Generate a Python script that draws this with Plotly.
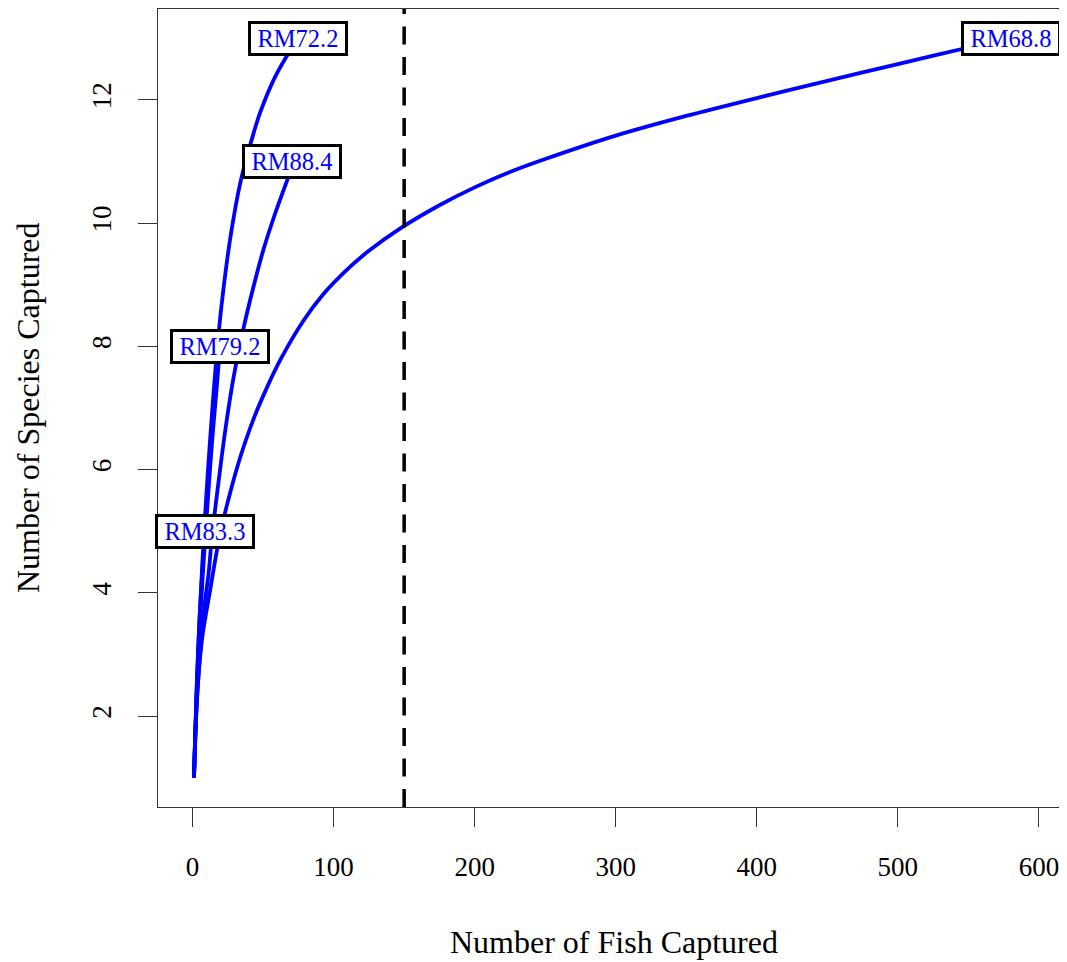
import plotly.graph_objects as go

# ---- data ----
rm688_x = [1, 2, 4, 7, 12.5, 17.3, 22, 26.7, 33.8, 43.2, 52.7, 62.2, 78.7, 92.8, 111.6, 125, 147,
           175, 200, 225, 250, 300, 350, 400, 450, 500, 550, 580]
rm688_y = [1, 1.75, 2.6, 3.3, 4.05, 4.69, 5.2, 5.63, 6.2, 6.82, 7.33, 7.78, 8.42, 8.85, 9.29, 9.55, 9.91,
           10.29, 10.58, 10.83, 11.04, 11.42, 11.74, 12.03, 12.31, 12.58, 12.85, 13.0]

rm722_x = [1, 3, 5, 7, 9, 11.4, 14.9, 18.4, 22, 26.7, 33.8, 42.5, 48, 58, 67.8, 75]
rm722_y = [1, 2.5, 3.6, 4.5, 5.3, 6.15, 7.25, 8.2, 8.95, 9.75, 10.65, 11.4, 11.8, 12.35, 12.75, 13.0]

rm884_x = [1, 3, 6, 9, 11.4, 13.7, 18.4, 23.2, 29.1, 36.2, 43, 50, 58, 67, 71]
rm884_y = [1, 2.2, 3.2, 3.9, 4.32, 4.9, 5.8, 6.64, 7.5, 8.3, 8.95, 9.55, 10.12, 10.69, 10.93]

rm792_x = [1, 3, 5, 7, 9, 11.4, 14, 17, 19.5]
rm792_y = [1, 2.4, 3.4, 4.2, 4.9, 5.7, 6.5, 7.3, 8.0]

rm833_x = [1, 2, 3, 4, 5, 6, 7, 8, 9]
rm833_y = [1, 1.8, 2.5, 3.1, 3.6, 4.0, 4.4, 4.7, 5.0]

label_text = ["RM72.2", "RM88.4", "RM79.2", "RM83.3", "RM68.8"]
label_x = [75, 70.6, 19.5, 9, 580]
label_y = [13, 11, 8, 5, 13]

x_ticks = [0, 100, 200, 300, 400, 500, 600]
y_ticks = [2, 4, 6, 8, 10, 12]
cutoff_x = 150

FONT = "Liberation Serif"

fig = go.Figure()
for xs, ys in [(rm688_x, rm688_y), (rm722_x, rm722_y), (rm884_x, rm884_y),
               (rm792_x, rm792_y), (rm833_x, rm833_y)]:
    fig.add_trace(go.Scatter(x=xs, y=ys, mode="lines",
                             line=dict(color="#0000FF", width=3.8, shape="spline", smoothing=0.8),
                             showlegend=False, hoverinfo="skip"))

fig.add_shape(type="line", xref="x", yref="paper", x0=cutoff_x, x1=cutoff_x, y0=0, y1=1,
              line=dict(color="black", width=3.5, dash="18px,12.5px"), layer="above")

for t, lx, ly in zip(label_text, label_x, label_y):
    fig.add_annotation(x=lx, y=ly, text=t, showarrow=False,
                       font=dict(family=FONT, size=24.5, color="#0000FF"),
                       bgcolor="white", bordercolor="black", borderwidth=3,
                       borderpad=1, width=92, height=27)

fig.add_annotation(xref="paper", yref="paper", x=(606 - 150) / 909, y=0,
                   yanchor="middle", xanchor="center", yshift=-134.7,
                   text="Number of Fish Captured", showarrow=False,
                   font=dict(family=FONT, size=32, color="black"))
fig.add_annotation(xref="paper", yref="paper", x=0, y=0.5, xanchor="center", yanchor="middle",
                   xshift=-130, textangle=-90,
                   text="Number of Species Captured", showarrow=False,
                   font=dict(family=FONT, size=32, color="black"))

fig.update_xaxes(range=[-24.5, 619.9], tickvals=x_ticks, ticktext=[str(v) for v in x_ticks],
                 ticks="outside", ticklen=19, tickwidth=1.3, tickcolor="#333",
                 showline=True, linecolor="#333", linewidth=1.3, mirror=True,
                 showgrid=False, zeroline=False, ticklabelstandoff=16,
                 tickfont=dict(family=FONT, size=27, color="black"))
fig.update_yaxes(range=[0.525, 13.475], tickvals=y_ticks, ticktext=[str(v) for v in y_ticks],
                 ticks="outside", ticklen=19, tickwidth=1.3, tickcolor="#333",
                 showline=True, linecolor="#333", linewidth=1.3,
                 showgrid=False, zeroline=False, tickangle=-90, ticklabelstandoff=16,
                 tickfont=dict(family=FONT, size=27, color="black"))

fig.update_layout(width=1059, height=954, margin=dict(l=150, r=0, t=1, b=155),
                  plot_bgcolor="white", paper_bgcolor="white")

fig.write_html("out.html")
